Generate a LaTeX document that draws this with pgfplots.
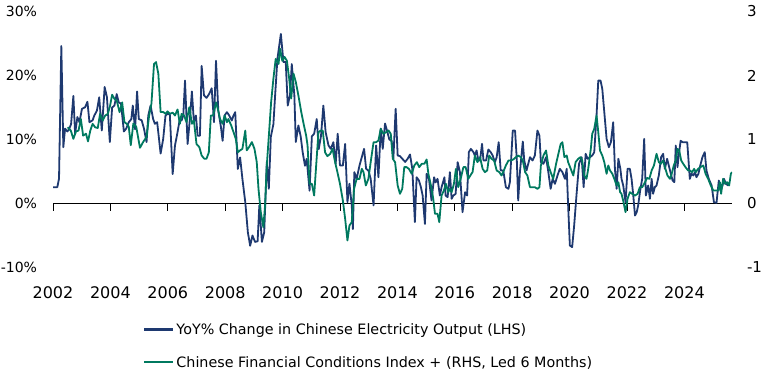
\documentclass[border=0pt]{standalone}
\usepackage{pgfplots}
\pgfplotsset{compat=1.18}
\usepackage{pgfplotstable}
\usepackage{fontspec}
\setmainfont{DejaVu Sans}
\definecolor{navy}{RGB}{30,57,112}
\definecolor{teal}{RGB}{0,121,95}

\pgfplotstableread{
year val
2002.00 2.55
2002.15 2.55
2002.21 3.9
2002.29 24.6
2002.36 8.8
2002.42 11.7
2002.50 11.25
2002.56 11.6
2002.63 12.4
2002.71 16.8
2002.77 10.9
2002.85 13.5
2002.92 12.7
2003.01 14.8
2003.12 15.05
2003.20 15.9
2003.27 12.7
2003.38 13.0
2003.44 13.75
2003.53 14.5
2003.61 16.6
2003.70 11.4
2003.80 18.2
2003.88 16.6
2003.98 9.6
2004.06 15.0
2004.14 15.3
2004.22 17.1
2004.29 15.8
2004.37 15.6
2004.47 11.25
2004.55 11.7
2004.64 12.7
2004.73 13.2
2004.78 15.3
2004.86 11.6
2004.93 17.5
2004.99 13.2
2005.09 13.0
2005.17 11.7
2005.26 9.6
2005.32 13.75
2005.40 15.3
2005.49 13.2
2005.55 12.45
2005.63 12.7
2005.75 7.8
2005.84 10.1
2005.92 13.75
2005.99 14.0
2006.07 14.0
2006.17 4.6
2006.25 9.06
2006.33 10.9
2006.42 13.2
2006.48 12.97
2006.54 13.75
2006.60 19.2
2006.69 9.3
2006.77 13.2
2006.84 17.5
2006.91 12.7
2006.98 13.75
2007.04 10.6
2007.12 10.6
2007.18 21.5
2007.26 16.9
2007.35 16.5
2007.44 17.1
2007.53 18.0
2007.61 12.7
2007.68 22.3
2007.76 14.5
2007.85 12.0
2007.91 9.8
2007.98 13.75
2008.06 14.27
2008.14 13.75
2008.23 12.97
2008.29 13.75
2008.35 14.27
2008.44 5.4
2008.52 7.2
2008.60 3.85
2008.70 0.2
2008.79 -4.5
2008.87 -6.6
2008.95 -5.0
2009.04 -6.0
2009.13 -5.9
2009.19 -0.3
2009.28 -6.0
2009.36 -4.5
2009.45 6.5
2009.52 2.3
2009.59 10.4
2009.68 12.4
2009.74 16.9
2009.82 22.6
2009.94 26.5
2010.03 22.1
2010.11 22.1
2010.18 15.3
2010.26 17.0
2010.32 21.8
2010.41 16.9
2010.46 9.6
2010.55 12.2
2010.63 10.5
2010.70 8.0
2010.78 5.9
2010.84 6.98
2010.94 2.0
2011.02 10.5
2011.10 10.9
2011.19 13.2
2011.26 8.5
2011.34 10.6
2011.42 15.3
2011.50 11.15
2011.60 9.06
2011.68 8.54
2011.77 9.58
2011.85 6.2
2011.92 10.9
2012.00 5.94
2012.10 5.94
2012.18 9.3
2012.26 0.2
2012.33 3.1
2012.41 -0.3
2012.45 -4.0
2012.50 4.9
2012.58 3.85
2012.68 5.94
2012.76 7.24
2012.84 8.54
2012.91 5.42
2012.99 5.16
2013.07 3.85
2013.17 -0.3
2013.26 9.06
2013.34 4.1
2013.42 11.7
2013.49 8.54
2013.57 12.5
2013.65 11.2
2013.72 10.0
2013.80 9.8
2013.86 7.0
2013.94 14.8
2014.01 7.5
2014.09 7.4
2014.17 7.0
2014.27 6.5
2014.36 7.0
2014.44 7.66
2014.52 5.42
2014.61 -2.9
2014.67 4.1
2014.75 3.6
2014.82 2.55
2014.88 1.25
2014.96 -3.2
2015.02 4.64
2015.10 3.85
2015.19 0.47
2015.28 4.1
2015.33 3.3
2015.40 3.85
2015.48 1.25
2015.54 2.55
2015.64 4.1
2015.68 1.25
2015.75 0.99
2015.83 4.9
2015.89 0.73
2015.95 1.25
2016.03 1.5
2016.10 6.46
2016.18 4.9
2016.27 -1.35
2016.36 1.77
2016.43 1.25
2016.49 8.02
2016.56 8.54
2016.65 8.02
2016.70 7.5
2016.76 8.3
2016.82 6.72
2016.88 6.72
2016.95 9.32
2017.00 6.72
2017.09 6.72
2017.17 8.44
2017.25 8.02
2017.32 7.5
2017.40 6.46
2017.46 7.24
2017.53 9.58
2017.60 5.16
2017.69 5.16
2017.78 2.55
2017.87 2.29
2017.92 3.33
2018.02 11.4
2018.10 11.4
2018.16 6.98
2018.21 0.47
2018.27 4.9
2018.37 9.69
2018.42 6.72
2018.50 5.16
2018.56 6.2
2018.62 7.24
2018.71 6.72
2018.79 7.5
2018.88 11.4
2018.95 10.6
2019.00 6.46
2019.09 6.2
2019.18 7.24
2019.26 4.9
2019.34 2.29
2019.41 3.85
2019.49 3.07
2019.58 4.38
2019.66 5.42
2019.75 4.9
2019.84 3.85
2019.90 5.42
2019.95 -0.31
2020.01 -6.56
2020.09 -6.82
2020.16 -3.44
2020.24 1.25
2020.33 6.2
2020.42 7.24
2020.49 2.55
2020.56 7.76
2020.63 6.98
2020.71 7.24
2020.79 7.5
2020.86 8.02
2020.94 13.75
2021.00 19.2
2021.08 19.2
2021.14 17.9
2021.21 14.27
2021.29 10.1
2021.37 8.8
2021.44 9.58
2021.52 12.7
2021.58 5.42
2021.64 2.29
2021.70 6.98
2021.77 5.42
2021.81 3.85
2021.87 2.81
2021.95 0.21
2022.02 5.42
2022.10 5.42
2022.16 3.85
2022.22 1.25
2022.28 -1.88
2022.34 -1.35
2022.39 -0.31
2022.46 2.03
2022.53 3.85
2022.60 10.1
2022.66 1.25
2022.74 2.81
2022.80 0.73
2022.86 3.85
2022.91 1.51
2022.97 2.55
2023.03 2.81
2023.11 4.38
2023.19 7.24
2023.26 7.76
2023.32 5.42
2023.40 6.98
2023.50 5.16
2023.59 3.59
2023.65 3.33
2023.70 9.06
2023.76 5.68
2023.81 7.76
2023.87 9.8
2023.94 9.58
2024.02 9.58
2024.10 9.58
2024.19 3.85
2024.25 4.64
2024.31 4.38
2024.37 4.9
2024.42 4.11
2024.49 4.64
2024.54 5.68
2024.63 7.24
2024.71 8.02
2024.77 5.16
2024.85 3.85
2024.95 2.81
2025.03 0.21
2025.12 0.10
2025.20 3.59
2025.26 2.03
2025.33 2.81
2025.38 3.85
2025.45 3.07
2025.53 2.81
}\elec

\pgfplotstableread{
year val
2002.51 1.19
2002.62 1.14
2002.71 1.01
2002.80 1.125
2002.89 1.14
2002.97 1.32
2003.05 1.06
2003.15 1.09
2003.22 0.97
2003.30 1.14
2003.38 1.245
2003.47 1.19
2003.56 1.18
2003.64 1.40
2003.73 1.297
2003.82 1.375
2003.91 1.40
2003.99 1.53
2004.06 1.70
2004.14 1.635
2004.22 1.61
2004.32 1.427
2004.41 1.58
2004.49 1.27
2004.57 1.245
2004.64 1.20
2004.71 0.91
2004.80 1.25
2004.90 1.20
2005.03 0.87
2005.14 0.96
2005.26 1.04
2005.35 1.375
2005.43 1.56
2005.52 2.18
2005.59 2.21
2005.67 2.03
2005.75 1.43
2005.84 1.43
2005.93 1.40
2005.99 1.44
2006.07 1.40
2006.17 1.42
2006.25 1.375
2006.34 1.47
2006.42 1.245
2006.48 1.40
2006.57 1.375
2006.65 1.27
2006.75 1.505
2006.84 1.245
2006.91 1.297
2007.00 0.93
2007.10 0.88
2007.18 0.75
2007.27 0.70
2007.35 0.70
2007.43 0.80
2007.50 1.375
2007.58 1.375
2007.68 1.58
2007.76 1.45
2007.82 1.32
2007.91 1.245
2007.98 1.375
2008.06 1.27
2008.11 1.32
2008.21 1.22
2008.29 1.115
2008.37 1.01
2008.44 0.80
2008.52 0.83
2008.60 0.854
2008.70 1.14
2008.75 0.83
2008.83 0.88
2008.93 0.96
2009.02 0.854
2009.10 0.646
2009.16 0.23
2009.24 -0.135
2009.33 -0.37
2009.39 -0.03
2009.45 0.594
2009.53 1.115
2009.60 1.58
2009.68 1.95
2009.76 2.26
2009.86 2.18
2009.91 2.42
2009.99 2.23
2010.07 2.29
2010.15 2.23
2010.23 1.95
2010.30 1.64
2010.38 2.03
2010.46 1.90
2010.55 1.69
2010.65 1.43
2010.73 1.25
2010.82 1.063
2010.87 0.906
2010.94 0.307
2011.02 0.307
2011.10 0.125
2011.17 0.594
2011.25 1.115
2011.33 1.14
2011.40 1.14
2011.48 0.80
2011.56 0.74
2011.66 0.776
2011.74 0.854
2011.83 0.646
2011.91 0.49
2012.00 0.307
2012.10 0.047
2012.18 -0.24
2012.26 -0.578
2012.33 -0.344
2012.41 -0.292
2012.49 0.229
2012.58 0.385
2012.68 0.385
2012.76 0.542
2012.82 0.49
2012.90 0.281
2012.99 0.385
2013.07 0.646
2013.17 0.958
2013.26 0.958
2013.34 0.984
2013.42 1.167
2013.51 1.089
2013.61 1.115
2013.69 1.141
2013.77 1.089
2013.84 0.698
2013.92 0.646
2014.01 0.281
2014.09 0.151
2014.17 0.229
2014.24 0.568
2014.32 0.568
2014.40 0.542
2014.50 0.464
2014.59 0.594
2014.68 0.646
2014.76 0.568
2014.85 0.62
2014.94 0.62
2015.02 0.688
2015.08 0.464
2015.17 0.281
2015.25 0.073
2015.31 -0.161
2015.40 -0.161
2015.46 -0.292
2015.54 0.125
2015.62 0.203
2015.69 0.307
2015.77 0.177
2015.83 0.229
2015.89 0.177
2015.97 0.307
2016.04 0.542
2016.12 0.255
2016.22 0.411
2016.30 0.568
2016.38 0.568
2016.47 0.385
2016.56 0.45
2016.62 0.49
2016.70 0.75
2016.79 0.646
2016.88 0.724
2016.97 0.542
2017.05 0.49
2017.13 0.516
2017.20 0.75
2017.28 0.698
2017.37 0.672
2017.46 0.516
2017.55 0.49
2017.63 0.438
2017.71 0.516
2017.78 0.594
2017.87 0.672
2017.95 0.672
2018.04 0.688
2018.13 0.724
2018.21 0.75
2018.30 0.724
2018.37 0.672
2018.45 0.49
2018.53 0.438
2018.62 0.255
2018.71 0.255
2018.79 0.255
2018.88 0.229
2018.95 0.255
2019.00 0.594
2019.09 0.75
2019.18 0.828
2019.26 0.594
2019.34 0.49
2019.43 0.385
2019.53 0.62
2019.61 0.776
2019.69 0.93
2019.75 0.958
2019.82 0.724
2019.90 0.75
2019.95 0.646
2020.04 0.542
2020.13 0.438
2020.21 0.646
2020.30 0.698
2020.38 0.724
2020.44 0.672
2020.51 0.438
2020.59 0.385
2020.65 0.542
2020.74 0.854
2020.79 1.089
2020.86 1.167
2020.94 1.375
2021.00 1.115
2021.06 0.828
2021.14 0.75
2021.21 0.646
2021.29 0.464
2021.35 0.594
2021.41 0.516
2021.49 0.464
2021.56 0.385
2021.64 0.281
2021.70 0.333
2021.76 0.177
2021.81 0.151
2021.88 0.021
2021.95 -0.135
2022.02 0.073
2022.10 0.177
2022.18 0.151
2022.28 0.125
2022.37 0.151
2022.45 0.255
2022.53 0.255
2022.63 0.333
2022.70 0.40
2022.78 0.385
2022.86 0.516
2022.94 0.594
2023.03 0.776
2023.11 0.646
2023.18 0.62
2023.26 0.672
2023.34 0.542
2023.41 0.438
2023.50 0.385
2023.56 0.464
2023.63 0.594
2023.70 0.672
2023.76 0.854
2023.82 0.828
2023.89 0.672
2023.96 0.62
2024.04 0.568
2024.13 0.516
2024.19 0.516
2024.27 0.49
2024.34 0.542
2024.40 0.49
2024.48 0.542
2024.56 0.568
2024.66 0.594
2024.74 0.464
2024.83 0.385
2024.92 0.281
2025.01 0.203
2025.10 0.203
2025.18 0.203
2025.24 0.333
2025.28 0.151
2025.35 0.385
2025.42 0.307
2025.49 0.333
2025.56 0.281
2025.62 0.464
2025.66 0.49
}\fci

\begin{document}
\begin{tikzpicture}
\useasboundingbox (0,0) rectangle (770bp,376bp);
\pgfplotsset{
  base/.style={
    scale only axis, width=679bp, height=256bp,
    at={(53bp,108.5bp)}, anchor=south west,
    xmin=2, xmax=25.66,
    axis line style={draw=none},
    major tick length=0pt,
  },
}
\begin{axis}[base,
  ymin=-10, ymax=30,
  ytick={-10,0,10,20,30},
  yticklabels={-10\%,0\%,10\%,20\%,30\%},
  yticklabel style={font=\fontsize{14bp}{17bp}\selectfont, xshift=-12.5bp},
  xtick={2,4,...,24},
  xticklabels={2002,2004,2006,2008,2010,2012,2014,2016,2018,2020,2022,2024},
  xticklabel style={font=\fontsize{16bp}{19bp}\selectfont, yshift=-16bp},
  legend style={at={(axis description cs:0.1325,0)}, anchor=north west,
    yshift=-54bp, draw=none, fill=none, inner sep=0pt,
    font=\fontsize{14.3bp}{17bp}\selectfont, row sep=16.5bp,
    cells={anchor=west}},
  legend image code/.code={\draw[#1, line width=2.3bp] (0bp,0.5bp) -- (29bp,0.5bp);},
]
\draw[black, line width=0.9bp] (axis cs:2,0) -- (axis cs:25.66,0);
\pgfplotsinvokeforeach{2,4,6,8,10,12,14,16,18,20,22,24}{
  \draw[black, line width=0.9bp] (axis cs:#1,0) -- (axis cs:#1,-1.1);
}
\addplot[navy, line width=1.8bp, no markers, line join=round, forget plot] table[x expr=\thisrow{year}-2000,y=val]{\elec};
\addlegendimage{navy}
\addlegendentry{YoY\% Change in Chinese Electricity Output (LHS)}
\addlegendimage{teal}
\addlegendentry{Chinese Financial Conditions Index + (RHS, Led 6 Months)}
\end{axis}
\begin{axis}[base,
  ymin=-1, ymax=3,
  ytick={-1,0,1,2,3},
  yticklabels={-1,0,1,2,3},
  yticklabel pos=right,
  yticklabel style={font=\fontsize{15bp}{18bp}\selectfont, xshift=11.5bp},
  xtick=\empty,
]
\addplot[teal, line width=1.8bp, no markers, line join=round] table[x expr=\thisrow{year}-2000,y=val]{\fci};
\end{axis}
\end{tikzpicture}
\end{document}
